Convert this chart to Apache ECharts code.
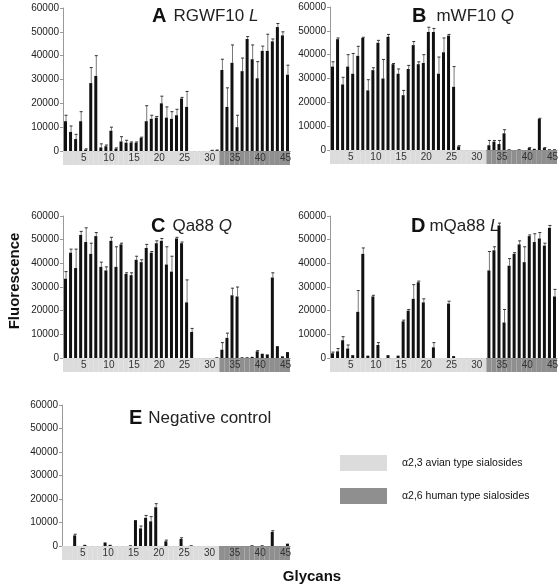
<!DOCTYPE html>
<html>
<head>
<meta charset="utf-8">
<script src="https://cdn.jsdelivr.net/npm/echarts@6/dist/echarts.min.js"></script>
<style>html,body{margin:0;padding:0;background:#fff}#c{width:558px;height:586px}</style>
</head>
<body>
<div id="c"></div>
<script>
// ---------- DATA ----------
const glycans = ['1','2','3','4','5','6','7','8','9','10','11','12','13','14','15','16','17','18','19','20',
  '21','22','23','24','25','26','27','28','29','30','31','32','33','34','35','36','37','38','39','40',
  '41','42','43','44','45'];
// sialoside linkage type per glycan: a23 = alpha2,3 avian type, a26 = alpha2,6 human type
const linkage = ['a23','a23','a23','a23','a23','a23','a23','a23','a23','a23','a23','a23','a23','a23','a23','a23',
  'a23','a23','a23','a23','a23','a23','a23','a23','a23','a23','a23','a23','a23','a23','a23',
  'a26','a26','a26','a26','a26','a26','a26','a26','a26','a26','a26','a26','a26','a26'];

const valsA = [12500,8000,5000,12500,600,28500,31500,1500,2000,8500,1000,4000,3500,3500,3500,5500,12500,13500,14000,20000,
  14000,13500,15000,22000,18500,0,0,0,0,200,300,34000,18500,37000,10000,33500,47000,38500,30500,42000,
  42000,46000,52000,48500,32000];
const errA = [2500,2500,2000,4000,300,6500,8500,1500,500,1500,300,2000,1000,300,300,300,6500,1500,500,3000,
  4500,3000,2500,500,6500,0,0,0,0,100,100,4500,8000,7500,5000,5500,1000,6000,7000,2000,
  7000,1000,1500,1500,4000];

const valsB = [35000,46500,27500,35000,32000,39500,47000,25000,33500,45000,30000,47500,36000,32000,23000,34000,44000,36000,36500,49500,
  49500,32000,41000,48000,26500,1500,0,0,0,0,0,2000,3500,2500,7000,300,0,300,0,800,
  500,13000,800,300,300];
const errB = [2000,500,3000,5000,8500,4000,300,4500,1000,1000,8000,1000,300,2000,2000,1500,1500,1000,3500,2000,
  1500,7000,6000,500,8500,300,0,0,0,0,0,2000,500,1500,1500,0,0,0,0,200,
  0,300,200,0,0];

const valsC = [33500,44500,38000,52000,49000,44000,51500,38500,37000,49500,38500,48000,35500,35000,41500,40500,46500,44500,48500,49500,
  39500,36500,50500,48500,23500,11000,0,0,0,0,300,3500,8500,26500,26000,300,300,500,2800,1800,
  1500,34000,5000,700,2500];
const errC = [3000,1500,8000,1500,6000,4500,1500,2000,1500,1500,8500,500,500,1000,1500,1000,1500,500,1000,1000,
  7500,6500,500,500,9500,1500,0,0,0,0,0,3000,2000,3000,4000,0,0,0,300,0,
  0,2000,0,0,0];

const valsD = [2000,2800,7500,4000,1200,19500,44000,1000,26000,5500,0,1200,0,1000,15500,20000,25000,32000,23500,0,
  4500,0,0,23000,800,0,0,0,0,0,0,37000,45500,56000,15000,39000,44000,48000,40500,51500,
  49000,50500,47500,55000,26000];
const errD = [500,1200,1500,1500,0,9000,2500,0,500,1000,0,0,0,0,500,500,6000,500,1500,0,
  2000,0,0,1000,0,0,0,0,0,0,0,8000,1500,1000,5500,3000,500,1500,6500,500,
  3500,2500,1000,1000,3000];

const valsE = [0,0,4500,0,500,0,0,0,1500,500,0,0,0,300,11000,7500,12000,10500,16500,0,
  2000,0,0,3000,0,300,0,0,0,0,0,0,0,0,0,0,0,300,0,300,
  0,6000,0,0,1000];
const errE = [0,0,500,0,0,0,0,0,0,0,0,0,0,0,0,1000,1000,2000,1500,0,
  500,0,0,500,0,0,0,0,0,0,0,0,0,0,0,0,0,0,0,0,
  0,500,0,0,0];

const yMin = 0, yMax = 60000, yStep = 10000;
const panelLetters = ['A','B','C','D','E'];
const panelNames = ['RGWF10 ','mWF10 ','Qa88 ','mQa88 ','Negative control'];
const panelMut = ['L','Q','Q','L',''];
const legendTexts = ['\u03b12,3 avian type sialosides','\u03b12,6 human type sialosides'];

// ---------- LAYOUT ----------
const layout = [
  {grid:{left:63, top:8,   width:227, height:143}, title:{left:147, top:1,   gap:7}},
  {grid:{left:330,top:7,   width:227, height:143}, title:{left:407, top:1,   gap:10}},
  {grid:{left:63, top:216, width:227, height:142}, title:{left:146, top:211, gap:7}},
  {grid:{left:330,top:216, width:227, height:142}, title:{left:406, top:211, gap:4}},
  {grid:{left:62, top:405, width:228, height:141}, title:{left:124, top:403, gap:6}}
];
const panelVals = [valsA,valsB,valsC,valsD,valsE];
const panelErrs = [errA,errB,errC,errD,errE];
const bandColor = {a23:'#dcdcdc', a26:'#8f8f8f'};
const FONT = 'Liberation Sans, Arial, sans-serif';

const grids=[], xAxes=[], yAxes=[], series=[], titles=[];
layout.forEach((L,i)=>{
  const g = L.grid;
  grids.push({left:g.left, top:g.top, width:g.width, height:g.height});
  grids.push({left:g.left, top:g.top+g.height, width:g.width, height:14});
  const mi = 2*i, bi = 2*i+1;
  xAxes.push({type:'category', gridIndex:mi, data:glycans, boundaryGap:true,
    axisLine:{show:true, lineStyle:{color:'#666', width:1}}, axisTick:{show:false}, axisLabel:{show:false}});
  xAxes.push({type:'category', gridIndex:bi, data:glycans, show:false});
  yAxes.push({type:'value', gridIndex:mi, min:yMin, max:yMax, interval:yStep,
    axisLine:{show:true, lineStyle:{color:'#999', width:1}},
    axisTick:{show:true, length:3, lineStyle:{color:'#999'}},
    axisLabel:{fontSize:10, color:'#222', margin:4, fontFamily:FONT, formatter:v=>String(v)},
    splitLine:{show:false}});
  yAxes.push({type:'value', gridIndex:bi, min:0, max:1, show:false});
  const vals = panelVals[i], errs = panelErrs[i];
  series.push({type:'bar', xAxisIndex:mi, yAxisIndex:mi, data:vals, barWidth:3,
    itemStyle:{color:'#111'}, silent:true});
  series.push({type:'custom', xAxisIndex:mi, yAxisIndex:mi, encode:{x:0,y:1},
    data: glycans.map((g,k)=>[k, vals[k], errs[k]]),
    renderItem:(params, api)=>{
      const e = api.value(2);
      if (!e) return null;
      const v = api.value(1);
      const top = api.coord([api.value(0), v+e]);
      const base = api.coord([api.value(0), v]);
      const x = top[0]+0.5;
      return {type:'group', children:[
        {type:'line', shape:{x1:x, y1:top[1], x2:x, y2:base[1]}, style:{stroke:'#777', lineWidth:1}},
        {type:'line', shape:{x1:x-1.5, y1:top[1], x2:x+1.5, y2:top[1]}, style:{stroke:'#333', lineWidth:1}}
      ]};
    }});
  series.push({type:'bar', xAxisIndex:bi, yAxisIndex:bi, barWidth:'100%', barCategoryGap:'0%', silent:true,
    data: linkage.map(t=>({value:1, itemStyle:{color:bandColor[t]}})),
    label:{show:true, position:'inside', offset:[-2,0], fontSize:10, color:'#333', fontFamily:FONT,
      formatter: p => (Number(p.name)%5===0 ? p.name : '')}});
  titles.push({left:L.title.left, top:L.title.top,
    text:'{b|'+panelLetters[i]+'}{n|'+panelNames[i]+'}'+(panelMut[i]?'{i|'+panelMut[i]+'}':''),
    textStyle:{rich:{
      b:{fontSize:20, fontWeight:900, color:'#111', fontFamily:FONT, padding:[0,L.title.gap,0,0], lineHeight:20},
      n:{fontSize:17, fontWeight:'normal', color:'#222', fontFamily:FONT, lineHeight:20},
      i:{fontSize:17, fontWeight:'normal', color:'#222', fontStyle:'italic', fontFamily:FONT, lineHeight:20}
    }}});
});

const chart = echarts.init(document.getElementById('c'), null, {renderer:'canvas'});
chart.setOption({
  animation:false,
  backgroundColor:'#fff',
  title:titles,
  grid:grids, xAxis:xAxes, yAxis:yAxes, series:series,
  graphic:[
    {type:'text', x:15, y:281, rotation:Math.PI/2,
      style:{text:'Fluorescence', font:'bold 15px '+FONT, fill:'#111', textAlign:'center', textVerticalAlign:'middle'}},
    {type:'text', x:312, y:577,
      style:{text:'Glycans', font:'bold 15px '+FONT, fill:'#111', textAlign:'center', textVerticalAlign:'middle'}},
    {type:'rect', shape:{x:340, y:455, width:47, height:16}, style:{fill:bandColor.a23}},
    {type:'text', x:402, y:463, style:{text:legendTexts[0], font:'10.5px '+FONT, fill:'#111', textVerticalAlign:'middle'}},
    {type:'rect', shape:{x:340, y:488, width:47, height:16}, style:{fill:bandColor.a26}},
    {type:'text', x:402, y:496, style:{text:legendTexts[1], font:'10.5px '+FONT, fill:'#111', textVerticalAlign:'middle'}}
  ]
});
</script>
</body>
</html>
